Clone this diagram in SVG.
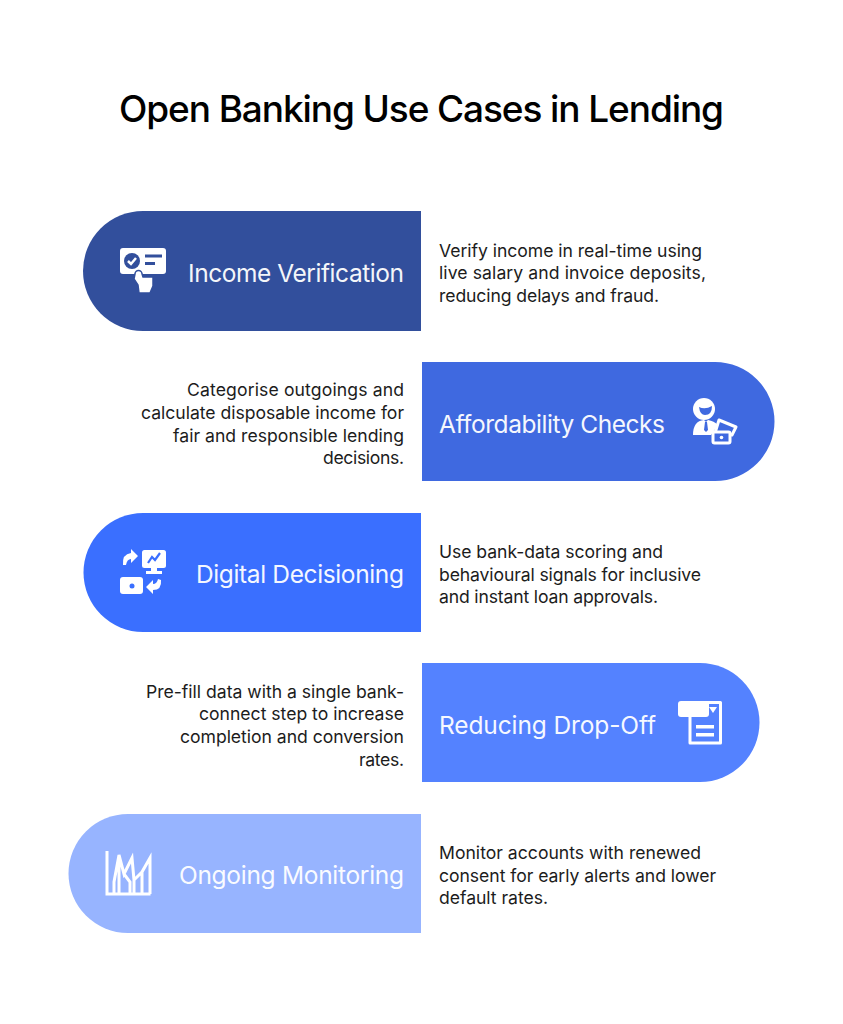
<svg xmlns="http://www.w3.org/2000/svg" width="843" height="1024" viewBox="0 0 843 1024">
<style>
text{font-family:"Inter","Noto Sans",sans-serif}
.t{font-size:37px;font-weight:500;fill:#000}
.h{font-size:24.5px;fill:#fff;opacity:.95}
.d{font-size:17.6px;fill:#1c1c1c}
.e{text-anchor:end}
.w{fill:#fff}
.s{fill:none;stroke:#fff;stroke-width:3;stroke-linejoin:round}
</style>
<rect width="843" height="1024" fill="#fff"/>
<text class="t" x="119" y="122" textLength="605">Open Banking Use Cases in Lending</text>
<g id="connectors"></g>
<g id="node1">
<path d="M421 211H143a60 60 0 0 0 0 120H421Z" fill="#324F9C"/>
<g transform="translate(100,230)">
<rect x="20" y="18" width="46" height="26" rx="3" class="w"/>
<circle cx="32" cy="31" r="8" fill="#324F9C"/>
<path d="M28 31l3 3 5-6" fill="none" stroke="#fff" stroke-width="2.500"/>
<rect x="45" y="24.500" width="17" height="3" fill="#324F9C"/>
<rect x="45" y="32" width="10" height="3" fill="#324F9C"/>
<path d="M35 44a3.500 3.500 0 0 1 7 0l1 3h10v9l-3 7H39l-1-8-4-6Z" class="w" stroke="#324F9C" stroke-width="1.500"/>
</g>
<text class="h" x="188" y="282" textLength="216">Income Verification</text>
<text class="d" x="439" y="256.500" textLength="263">Verify income in real-time using</text>
<text class="d" x="439" y="278.500" textLength="267">live salary and invoice deposits,</text>
<text class="d" x="439" y="301.500" textLength="220">reducing delays and fraud.</text>
</g>
<g id="node2">
<path d="M422 362H715a59.500 59.500 0 0 1 0 119H422Z" fill="#3F69E0"/>
<g transform="translate(680,385)">
<circle cx="24" cy="24" r="11" class="w"/>
<path d="M19 22q6 3 13-1q0 9-7 9q-5 0-6-8Z" fill="#3F69E0"/>
<path d="M13 50q0-14 11-15l2 2 2-2q6 1 10 5l-7 10Z" class="w"/>
<path d="M25 37h2l1 8-2 2-2-2Z" fill="#3F69E0"/>
<path d="M39 35l17 7-4 8-17-2Z" class="s"/>
<rect x="33" y="47" width="17" height="11" rx="1.500" fill="#3F69E0" stroke="#fff" stroke-width="3"/>
<circle cx="41.500" cy="52.500" r="1.800" class="w"/>
</g>
<text class="h" x="439" y="433" textLength="226">Affordability Checks</text>
<text class="d e" x="404" y="395.500" textLength="217">Categorise outgoings and</text>
<text class="d e" x="404" y="418.500" textLength="263">calculate disposable income for</text>
<text class="d e" x="404" y="441.500" textLength="231">fair and responsible lending</text>
<text class="d e" x="404" y="463.500" textLength="81">decisions.</text>
</g>
<g id="node3">
<path d="M421 513H143a59.500 59.500 0 0 0 0 119H421Z" fill="#3A6FFF"/>
<g transform="translate(105,535)">
<rect x="37" y="15" width="24" height="18" rx="2.500" class="w"/>
<path d="M46 33h6v3h5v3H41v-3h5Z" class="w"/>
<path d="M43 28l4-6 3 3 5-7" fill="none" stroke="#3A6FFF" stroke-width="2.200"/>
<path d="M18 30q-1-11 8-12v-4l7 7-7 7v-4q-4 0-5 6Z" class="w"/>
<rect x="15" y="42" width="23" height="17" rx="3" class="w"/>
<circle cx="27" cy="51" r="2.500" fill="#3A6FFF"/>
<path d="M56 45q1 10-8 10v4l-7-7 7-7v4q4 0 5-5Z" class="w"/>
</g>
<text class="h" x="196" y="583" textLength="208">Digital Decisioning</text>
<text class="d" x="439" y="557.500" textLength="224">Use bank-data scoring and</text>
<text class="d" x="439" y="580.500" textLength="262">behavioural signals for inclusive</text>
<text class="d" x="439" y="602.500" textLength="219">and instant loan approvals.</text>
</g>
<g id="node4">
<path d="M422 663H700a59.500 59.500 0 0 1 0 119H422Z" fill="#5482FF"/>
<g transform="translate(665,690)">
<path d="M25 27V53H55.500V12.500H40" class="s"/>
<rect x="13" y="11" width="31" height="16" rx="3" class="w"/>
<path d="M44 17h8l-4 6Z" class="w"/>
<rect x="31" y="35" width="18" height="3.500" class="w"/>
<rect x="31" y="43" width="18" height="3.500" class="w"/>
</g>
<text class="h" x="439" y="734" textLength="217">Reducing Drop-Off</text>
<text class="d e" x="404" y="697.500" textLength="258">Pre-fill data with a single bank-</text>
<text class="d e" x="404" y="719.500" textLength="205">connect step to increase</text>
<text class="d e" x="404" y="742.500" textLength="224">completion and conversion</text>
<text class="d e" x="404" y="765.500" textLength="45">rates.</text>
</g>
<g id="node5">
<path d="M421 814H128a59.500 59.500 0 0 0 0 119H421Z" fill="#97B4FF"/>
<g transform="translate(95,840)" fill="none" stroke="#fff" stroke-width="3">
<path d="M12 11V54H55.500"/>
<path d="M55 54V18L47 32V54M47 32L39 40 37 18 29 34 24 15 19 42V54M29 34L35 42V54M39 40V54M24 20V54"/>
</g>
<text class="h" x="179" y="884" textLength="225">Ongoing Monitoring</text>
<text class="d" x="439" y="858.500" textLength="262">Monitor accounts with renewed</text>
<text class="d" x="439" y="881.500" textLength="277">consent for early alerts and lower</text>
<text class="d" x="439" y="903.500" textLength="109">default rates.</text>
</g>
</svg>
